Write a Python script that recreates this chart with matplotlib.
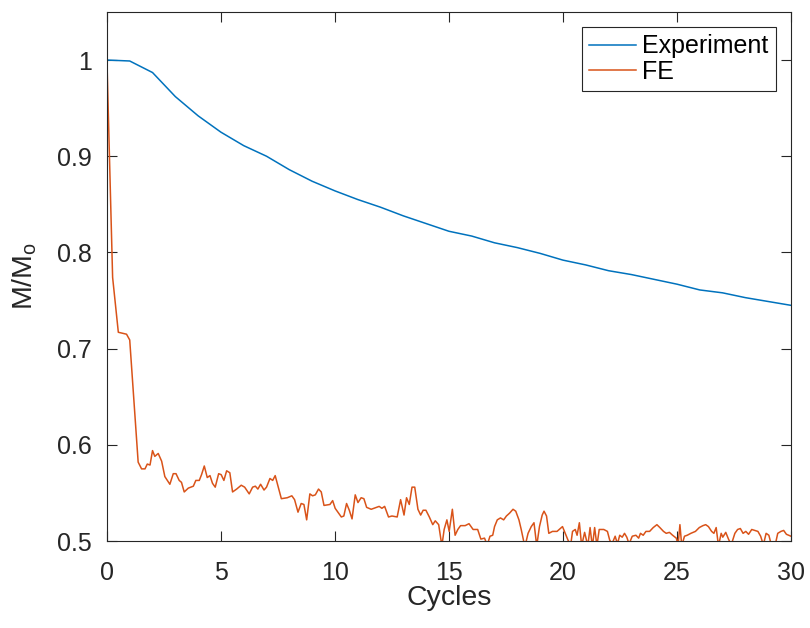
# M/Mo vs cycles - experiment vs FE

import matplotlib
matplotlib.use('Agg')
import matplotlib.pyplot as plt

plt.rcParams['font.family'] = ['Liberation Sans', 'DejaVu Sans']

# Experiment data
exp_cycles = [0, 1, 2, 3, 4, 5, 6, 7, 8, 9, 10, 11, 12, 13, 14, 15, 16, 17, 18, 19,
              20, 21, 22, 23, 24, 25, 26, 27, 28, 29, 30]
exp_ratio = [1.0, 0.999, 0.987, 0.962, 0.942, 0.925, 0.911, 0.900, 0.886, 0.874,
             0.864, 0.855, 0.847, 0.838, 0.830, 0.822, 0.817, 0.810, 0.805, 0.799,
             0.792, 0.787, 0.781, 0.777, 0.772, 0.767, 0.761, 0.758, 0.753, 0.749,
             0.745]

# FE data (10 values per row)
fe_cycles = [0, 0.25, 0.5, 0.86, 1.0, 1.37, 1.52, 1.67, 1.77, 1.89,
             2.0, 2.1, 2.25, 2.4, 2.54, 2.76, 2.91, 3.03, 3.17, 3.27,
             3.39, 3.57, 3.79, 3.9, 4.05, 4.15, 4.27, 4.4, 4.52, 4.63,
             4.75, 4.9, 5.01, 5.13, 5.25, 5.39, 5.51, 5.69, 5.89, 6.04,
             6.24, 6.39, 6.51, 6.62, 6.74, 6.89, 7.0, 7.15, 7.27, 7.38,
             7.65, 7.91, 8.11, 8.23, 8.38, 8.52, 8.64, 8.76, 8.9, 9.02,
             9.14, 9.28, 9.4, 9.52, 9.78, 9.9, 10.01, 10.13, 10.28, 10.39,
             10.51, 10.63, 10.75, 10.89, 11.01, 11.15, 11.27, 11.39, 11.59, 11.83,
             11.94, 12.06, 12.18, 12.35, 12.5, 12.73, 12.88, 13.03, 13.14, 13.26,
             13.38, 13.5, 13.64, 13.76, 13.87, 13.99, 14.14, 14.29, 14.4, 14.55,
             14.69, 14.79, 14.91, 15.01, 15.15, 15.27, 15.39, 15.51, 15.71, 15.88,
             16.06, 16.26, 16.4, 16.56, 16.68, 16.8, 16.92, 17.0, 17.12, 17.26,
             17.4, 17.52, 17.66, 17.81, 17.93, 18.07, 18.17, 18.33, 18.47, 18.61,
             18.73, 18.85, 18.97, 19.09, 19.17, 19.28, 19.38, 19.54, 19.74, 19.88,
             19.98, 20.1, 20.22, 20.34, 20.42, 20.54, 20.62, 20.72, 20.82, 20.95,
             21.09, 21.19, 21.29, 21.39, 21.49, 21.59, 21.79, 21.95, 22.05, 22.15,
             22.29, 22.39, 22.49, 22.6, 22.7, 22.8, 22.9, 23.04, 23.2, 23.32,
             23.4, 23.52, 23.64, 23.8, 23.96, 24.12, 24.25, 24.41, 24.53, 24.67,
             24.81, 24.97, 25.05, 25.13, 25.21, 25.33, 25.45, 25.61, 25.81, 25.98,
             26.14, 26.26, 26.38, 26.52, 26.62, 26.72, 26.82, 26.94, 27.01, 27.14,
             27.26, 27.38, 27.54, 27.66, 27.78, 27.9, 28.02, 28.14, 28.28, 28.42,
             28.55, 28.67, 28.79, 28.91, 29.03, 29.15, 29.3, 29.42, 29.56, 29.68,
             29.8, 30.0]
fe_ratio = [1.0, 0.774, 0.717, 0.715, 0.709, 0.582, 0.575, 0.575, 0.580, 0.579,
            0.594, 0.588, 0.591, 0.583, 0.567, 0.559, 0.570, 0.570, 0.563, 0.561,
            0.551, 0.555, 0.557, 0.563, 0.563, 0.569, 0.578, 0.566, 0.568, 0.560,
            0.556, 0.570, 0.569, 0.563, 0.573, 0.571, 0.551, 0.554, 0.558, 0.556,
            0.549, 0.556, 0.557, 0.554, 0.559, 0.553, 0.556, 0.565, 0.563, 0.568,
            0.544, 0.545, 0.547, 0.543, 0.530, 0.539, 0.538, 0.522, 0.549, 0.547,
            0.548, 0.554, 0.551, 0.537, 0.538, 0.542, 0.534, 0.530, 0.525, 0.526,
            0.539, 0.532, 0.523, 0.548, 0.540, 0.545, 0.544, 0.535, 0.533, 0.535,
            0.536, 0.534, 0.536, 0.525, 0.526, 0.525, 0.543, 0.527, 0.545, 0.538,
            0.556, 0.556, 0.533, 0.527, 0.532, 0.532, 0.525, 0.517, 0.521, 0.517,
            0.495, 0.512, 0.522, 0.510, 0.533, 0.506, 0.512, 0.516, 0.516, 0.518,
            0.512, 0.512, 0.502, 0.503, 0.496, 0.505, 0.506, 0.515, 0.522, 0.524,
            0.522, 0.526, 0.529, 0.533, 0.531, 0.522, 0.512, 0.494, 0.508, 0.515,
            0.519, 0.495, 0.515, 0.527, 0.531, 0.526, 0.508, 0.510, 0.510, 0.513,
            0.515, 0.508, 0.501, 0.496, 0.510, 0.512, 0.506, 0.519, 0.495, 0.509,
            0.495, 0.514, 0.494, 0.514, 0.495, 0.512, 0.512, 0.510, 0.501, 0.497,
            0.505, 0.497, 0.506, 0.504, 0.508, 0.504, 0.497, 0.505, 0.506, 0.503,
            0.508, 0.506, 0.510, 0.510, 0.514, 0.517, 0.514, 0.510, 0.508, 0.509,
            0.506, 0.503, 0.496, 0.517, 0.495, 0.505, 0.506, 0.508, 0.510, 0.514,
            0.516, 0.517, 0.515, 0.510, 0.508, 0.514, 0.495, 0.508, 0.504, 0.509,
            0.502, 0.496, 0.508, 0.512, 0.513, 0.508, 0.510, 0.507, 0.512, 0.511,
            0.510, 0.505, 0.496, 0.508, 0.506, 0.495, 0.495, 0.508, 0.510, 0.511,
            0.507, 0.505]

fig = plt.figure(figsize=(8.1, 6.28), dpi=100)
ax = fig.add_axes([0.132, 0.1385, 0.8445, 0.8425])

ax.plot(exp_cycles, exp_ratio, color='#0072BD', linewidth=1.1, label='Experiment')
ax.plot(fe_cycles, fe_ratio, color='#D95319', linewidth=1.1, label='FE')

ax.set_xlim(0, 30)
ax.set_ylim(0.5, 1.05)
ax.set_xticks([0, 5, 10, 15, 20, 25, 30])
ax.set_yticks([0.5, 0.6, 0.7, 0.8, 0.9, 1.0])
ax.set_yticklabels(['0.5', '0.6', '0.7', '0.8', '0.9', '1'])

ax.set_xlabel('Cycles', fontsize=20.5, color='#262626', labelpad=0)
ax.set_ylabel('M/M$_\\mathregular{o}$', fontsize=20.5, color='#262626', labelpad=13)

ax.tick_params(direction='in', length=7, width=0.8, labelsize=18,
               colors='#262626', top=True, right=True)
ax.tick_params(axis='x', pad=14.5)
ax.tick_params(axis='y', pad=11)
for s in ax.spines.values():
    s.set_color('#262626')
    s.set_linewidth(0.8)

leg = ax.legend(loc='upper right', fontsize=18, fancybox=False, framealpha=1,
                edgecolor='#262626', handlelength=1.88, handletextpad=0.24,
                borderpad=0.3, labelspacing=0.05, borderaxespad=0.6)
leg.get_frame().set_linewidth(0.8)

fig.savefig('out.png', dpi=100)
